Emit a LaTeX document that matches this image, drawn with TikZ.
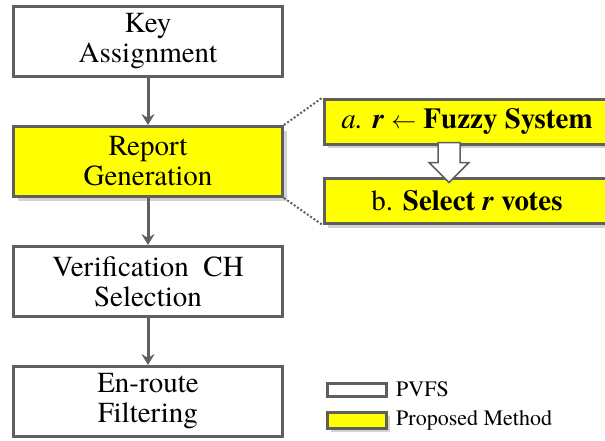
\documentclass[tikz,border=0pt]{standalone}
\usepackage{fontspec}
\setmainfont{texgyretermes}[Extension=.otf, UprightFont=*-regular,
    BoldFont=*-bold, ItalicFont=*-italic, BoldItalicFont=*-bolditalic]
\usetikzlibrary{positioning}
\usetikzlibrary{arrows.meta}
\usetikzlibrary{shadows}
\definecolor{edgegray}{HTML}{5F5F5F}
\definecolor{boxyellow}{HTML}{FFFF00}
\tikzset{stage/.style={draw=edgegray, line width=3pt, fill=white, align=center,
        minimum width=269pt, minimum height=70pt, inner sep=0pt,
        font=\fontsize{29}{30}\selectfont},
    proposed/.style={stage, fill=boxyellow,
        drop shadow={shadow xshift=4pt, shadow yshift=-4pt, opacity=.35}},
    substep/.style={proposed, minimum width=286pt, minimum height=45pt,
        font=\fontsize{29}{30}\selectfont},
    flow/.style={draw=edgegray, line width=3pt, -{Stealth[length=11pt,width=13pt,inset=4pt]}},
    zoomline/.style={draw=edgegray, line width=2pt, dotted},
    hollow/.style={draw=edgegray, line width=1.5pt, fill=white, line join=miter},
    keybox/.style={draw=edgegray, line width=3pt, minimum width=59pt, minimum height=13pt, inner sep=0pt},
    keytext/.style={anchor=west, inner sep=0pt, font=\fontsize{22}{24}\selectfont},
    node distance=47pt}

\begin{document}
\begin{tikzpicture}[x=1pt, y=1pt]
\useasboundingbox (0,0) rectangle (605,-440);
\clip (0,0) rectangle (605,-440);
% main flow
\node[stage] (key) at (148,-41.5) {Key\\Assignment};
\node[proposed, below=of key] (report) {Report\\Generation};
\node[stage, below=of report] (verify) {Verification\ \ CH\\Selection};
\node[stage, below=of verify] (filter) {En-route\\Filtering};
\draw[flow] (key) -- (report);
\draw[flow] (report) -- (verify);
\draw[flow] (verify) -- (filter);
% detail of report generation
\node[substep] (fuzzy) at (467,-121.5) {\textit{a.} \textbf{\textit{r}} $\leftarrow$ \textbf{Fuzzy System}};
\node[substep] (select) at (467,-201) {b. \textbf{Select \textit{r} votes}};
\coordinate (tail) at ([xshift=-18pt, yshift=3pt]fuzzy.south);
\draw[hollow] ([xshift=-11pt]tail) -- ++(0,-20) -- ++(-9,0) -- ++(20,-20)
    -- ++(20,20) -- ++(-9,0) -- ++(0,20) -- cycle;
\draw[zoomline] (report.north east) -- (fuzzy.north west);
\draw[zoomline] (report.south east) -- (select.south west);
% legend
\node[keybox, fill=white] (pvfskey) at (357,-389.5) {};
\node[keybox, fill=boxyellow, minimum height=16pt,
    drop shadow={shadow xshift=3pt, shadow yshift=-3pt, opacity=.35}] (ourkey) at (357,-420.5) {};
\node[keytext] (pvfs) at (396,-389.5) {PVFS};
\node[keytext] (ours) at (396,-420.5) {Proposed Method};
\end{tikzpicture}
\end{document}
